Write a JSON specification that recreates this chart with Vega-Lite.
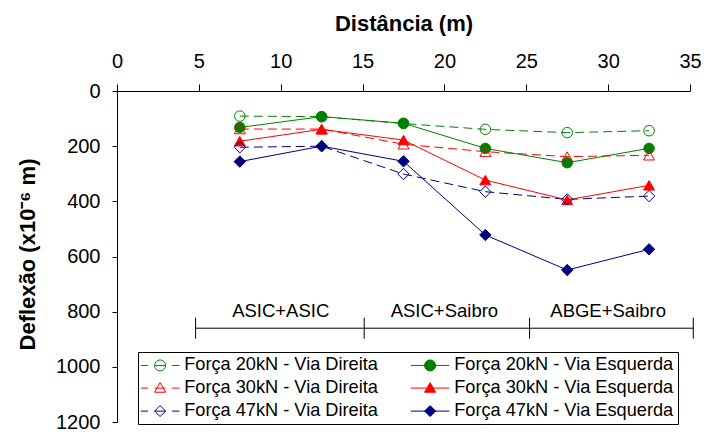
{
  "$schema": "https://vega.github.io/schema/vega-lite/v6.json",
  "width": 573,
  "height": 331,
  "autosize": {"type": "none"},
  "padding": {"left": 117, "top": 91, "right": 16, "bottom": 10},
  "config": {
    "font": "Liberation Sans",
    "view": {"stroke": null},
    "axis": {
      "grid": false,
      "domainColor": "#000000",
      "tickColor": "#000000",
      "labelColor": "#000000",
      "titleColor": "#000000",
      "labelFont": "Liberation Sans",
      "titleFont": "Liberation Sans",
      "labelFontSize": 20,
      "titleFontSize": 22,
      "titleFontWeight": "bold",
      "labelFlush": false,
      "labelOverlap": false,
      "domainWidth": 1,
      "tickWidth": 1
    },
    "legend": {
      "orient": "none",
      "legendX": 21,
      "legendY": 261,
      "direction": "horizontal",
      "columns": 2,
      "columnPadding": 30,
      "rowPadding": 4,
      "padding": 4,
      "symbolSize": 121,
      "symbolOffset": 9,
      "symbolOpacity": 1,
      "symbolStrokeWidth": 1,
      "labelOffset": 15,
      "labelFont": "Liberation Sans",
      "labelFontSize": 18.2,
      "labelColor": "#000000",
      "labelLimit": 400,
      "strokeColor": "#000000",
      "fillColor": "#ffffff"
    }
  },
  "datasets": {
    "deflexao": [
      {"serie": "Força 20kN - Via Direita", "dist": 7.5, "defl": 91},
      {"serie": "Força 20kN - Via Direita", "dist": 12.5, "defl": 93},
      {"serie": "Força 20kN - Via Direita", "dist": 17.5, "defl": 118},
      {"serie": "Força 20kN - Via Direita", "dist": 22.5, "defl": 139},
      {"serie": "Força 20kN - Via Direita", "dist": 27.5, "defl": 151},
      {"serie": "Força 20kN - Via Direita", "dist": 32.5, "defl": 144},
      {"serie": "Força 20kN - Via Esquerda", "dist": 7.5, "defl": 132},
      {"serie": "Força 20kN - Via Esquerda", "dist": 12.5, "defl": 93},
      {"serie": "Força 20kN - Via Esquerda", "dist": 17.5, "defl": 117},
      {"serie": "Força 20kN - Via Esquerda", "dist": 22.5, "defl": 208},
      {"serie": "Força 20kN - Via Esquerda", "dist": 27.5, "defl": 260},
      {"serie": "Força 20kN - Via Esquerda", "dist": 32.5, "defl": 208},
      {"serie": "Força 30kN - Via Direita", "dist": 7.5, "defl": 138},
      {"serie": "Força 30kN - Via Direita", "dist": 12.5, "defl": 138},
      {"serie": "Força 30kN - Via Direita", "dist": 17.5, "defl": 193},
      {"serie": "Força 30kN - Via Direita", "dist": 22.5, "defl": 220},
      {"serie": "Força 30kN - Via Direita", "dist": 27.5, "defl": 238},
      {"serie": "Força 30kN - Via Direita", "dist": 32.5, "defl": 233},
      {"serie": "Força 30kN - Via Esquerda", "dist": 7.5, "defl": 182},
      {"serie": "Força 30kN - Via Esquerda", "dist": 12.5, "defl": 139},
      {"serie": "Força 30kN - Via Esquerda", "dist": 17.5, "defl": 178},
      {"serie": "Força 30kN - Via Esquerda", "dist": 22.5, "defl": 323},
      {"serie": "Força 30kN - Via Esquerda", "dist": 27.5, "defl": 395},
      {"serie": "Força 30kN - Via Esquerda", "dist": 32.5, "defl": 342},
      {"serie": "Força 47kN - Via Direita", "dist": 7.5, "defl": 204},
      {"serie": "Força 47kN - Via Direita", "dist": 12.5, "defl": 200},
      {"serie": "Força 47kN - Via Direita", "dist": 17.5, "defl": 301},
      {"serie": "Força 47kN - Via Direita", "dist": 22.5, "defl": 365},
      {"serie": "Força 47kN - Via Direita", "dist": 27.5, "defl": 393},
      {"serie": "Força 47kN - Via Direita", "dist": 32.5, "defl": 381},
      {"serie": "Força 47kN - Via Esquerda", "dist": 7.5, "defl": 256},
      {"serie": "Força 47kN - Via Esquerda", "dist": 12.5, "defl": 200},
      {"serie": "Força 47kN - Via Esquerda", "dist": 17.5, "defl": 255},
      {"serie": "Força 47kN - Via Esquerda", "dist": 22.5, "defl": 522},
      {"serie": "Força 47kN - Via Esquerda", "dist": 27.5, "defl": 649},
      {"serie": "Força 47kN - Via Esquerda", "dist": 32.5, "defl": 574}
    ],
    "trechos": [
      {"trecho": "ASIC+ASIC", "inicio": 4.8, "fim": 15.1, "centro": 10},
      {"trecho": "ASIC+Saibro", "inicio": 15.1, "fim": 25.2, "centro": 20},
      {"trecho": "ABGE+Saibro", "inicio": 25.2, "fim": 35.2, "centro": 30}
    ],
    "divisas": [
      {"d": 4.8}, {"d": 15.1}, {"d": 25.2}, {"d": 35.2}
    ]
  },
  "layer": [
    {
      "data": {"name": "deflexao"},
      "mark": {"type": "point", "filled": true, "opacity": 0, "strokeWidth": 1},
      "encoding": {
        "x": {
          "field": "dist",
          "type": "quantitative",
          "scale": {"domain": [0, 35], "nice": false, "zero": true},
          "axis": {
            "orient": "top",
            "title": "Distância (m)",
            "values": [0, 5, 10, 15, 20, 25, 30, 35],
            "tickSize": 7,
            "labelPadding": 13,
            "titleX": 286.5,
            "titleY": -56
          }
        },
        "y": {
          "field": "defl",
          "type": "quantitative",
          "scale": {"domain": [0, 1200], "nice": false, "reverse": true},
          "axis": {
            "title": "Deflexão (x10⁻⁶ m)",
            "values": [0, 200, 400, 600, 800, 1000, 1200],
            "format": "d",
            "tickSize": 5,
            "labelPadding": 12,
            "titleX": -78,
            "titleY": 163
          }
        },
        "shape": {
          "field": "serie",
          "type": "nominal",
          "scale": {
            "domain": [
              "Força 20kN - Via Direita", "Força 20kN - Via Esquerda",
              "Força 30kN - Via Direita", "Força 30kN - Via Esquerda",
              "Força 47kN - Via Direita", "Força 47kN - Via Esquerda"
            ],
            "range": [
              "M-3.5,0H-2.2M-1,0H1M2.2,0H3.5M1,0A1,1,0,1,1,-1,0A1,1,0,1,1,1,0Z",
              "M-3.5,0H3.5M1,0A1,1,0,1,1,-1,0A1,1,0,1,1,1,0Z",
              "M-3.5,0H-2.2M-1,0H1M2.2,0H3.5M0,-1L1,0.75L-1,0.75Z",
              "M-3.5,0H3.5M0,-1L1,0.75L-1,0.75Z",
              "M-3.5,0H-2.2M-1,0H1M2.2,0H3.5M0,-1L1,0L0,1L-1,0Z",
              "M-3.5,0H3.5M0,-1L1,0L0,1L-1,0Z"
            ]
          },
          "legend": {"title": null}
        },
        "stroke": {
          "field": "serie",
          "type": "nominal",
          "scale": {
            "domain": [
              "Força 20kN - Via Direita", "Força 20kN - Via Esquerda",
              "Força 30kN - Via Direita", "Força 30kN - Via Esquerda",
              "Força 47kN - Via Direita", "Força 47kN - Via Esquerda"
            ],
            "range": ["#008000", "#008000", "#ff0000", "#ff0000", "#000080", "#000080"]
          },
          "legend": {"title": null}
        },
        "fill": {
          "field": "serie",
          "type": "nominal",
          "scale": {
            "domain": [
              "Força 20kN - Via Direita", "Força 20kN - Via Esquerda",
              "Força 30kN - Via Direita", "Força 30kN - Via Esquerda",
              "Força 47kN - Via Direita", "Força 47kN - Via Esquerda"
            ],
            "range": ["transparent", "#008000", "transparent", "#ff0000", "transparent", "#000080"]
          },
          "legend": {"title": null}
        }
      }
    },
    {
      "data": {"name": "deflexao"},
      "transform": [{"filter": "indexof(datum.serie, 'Direita') >= 0"}],
      "mark": {"type": "line", "strokeWidth": 1, "strokeDash": [9, 5]},
      "encoding": {
        "x": {"field": "dist", "type": "quantitative"},
        "y": {"field": "defl", "type": "quantitative"},
        "color": {
          "field": "serie",
          "type": "nominal",
          "scale": {
            "domain": [
              "Força 20kN - Via Direita", "Força 20kN - Via Esquerda",
              "Força 30kN - Via Direita", "Força 30kN - Via Esquerda",
              "Força 47kN - Via Direita", "Força 47kN - Via Esquerda"
            ],
            "range": ["#008000", "#008000", "#ff0000", "#ff0000", "#000080", "#000080"]
          },
          "legend": null
        }
      }
    },
    {
      "data": {"name": "deflexao"},
      "transform": [{"filter": "indexof(datum.serie, 'Esquerda') >= 0"}],
      "mark": {"type": "line", "strokeWidth": 1},
      "encoding": {
        "x": {"field": "dist", "type": "quantitative"},
        "y": {"field": "defl", "type": "quantitative"},
        "color": {"field": "serie", "type": "nominal", "legend": null}
      }
    },
    {
      "data": {"name": "deflexao"},
      "transform": [{"filter": "indexof(datum.serie, '20kN') >= 0"}],
      "mark": {"type": "point", "shape": "circle", "filled": true, "strokeWidth": 1, "size": 110, "opacity": 1},
      "encoding": {
        "x": {"field": "dist", "type": "quantitative"},
        "y": {"field": "defl", "type": "quantitative"},
        "stroke": {"field": "serie", "type": "nominal", "legend": {"title": null}},
        "fill": {"field": "serie", "type": "nominal", "legend": {"title": null}}
      }
    },
    {
      "data": {"name": "deflexao"},
      "transform": [{"filter": "indexof(datum.serie, '30kN') >= 0"}],
      "mark": {"type": "point", "shape": "triangle-up", "filled": true, "strokeWidth": 1, "size": 120, "opacity": 1},
      "encoding": {
        "x": {"field": "dist", "type": "quantitative"},
        "y": {"field": "defl", "type": "quantitative"},
        "stroke": {"field": "serie", "type": "nominal", "legend": {"title": null}},
        "fill": {"field": "serie", "type": "nominal", "legend": {"title": null}}
      }
    },
    {
      "data": {"name": "deflexao"},
      "transform": [{"filter": "indexof(datum.serie, '47kN') >= 0"}],
      "mark": {"type": "point", "shape": "diamond", "filled": true, "strokeWidth": 1, "size": 130, "opacity": 1},
      "encoding": {
        "x": {"field": "dist", "type": "quantitative"},
        "y": {"field": "defl", "type": "quantitative"},
        "stroke": {"field": "serie", "type": "nominal", "legend": {"title": null}},
        "fill": {"field": "serie", "type": "nominal", "legend": {"title": null}}
      }
    },
    {
      "data": {"name": "trechos"},
      "mark": {"type": "rule", "color": "#000000", "strokeWidth": 1},
      "encoding": {
        "x": {"field": "inicio", "type": "quantitative"},
        "x2": {"field": "fim"},
        "y": {"datum": 860, "type": "quantitative"}
      }
    },
    {
      "data": {"name": "divisas"},
      "mark": {"type": "rule", "color": "#000000", "strokeWidth": 1},
      "encoding": {
        "x": {"field": "d", "type": "quantitative"},
        "y": {"datum": 822, "type": "quantitative"},
        "y2": {"datum": 898}
      }
    },
    {
      "data": {"name": "trechos"},
      "mark": {"type": "text", "font": "Liberation Sans", "fontSize": 18.5, "color": "#000000", "align": "center", "baseline": "alphabetic"},
      "encoding": {
        "x": {"field": "centro", "type": "quantitative"},
        "y": {"datum": 818, "type": "quantitative"},
        "text": {"field": "trecho"}
      }
    }
  ]
}
